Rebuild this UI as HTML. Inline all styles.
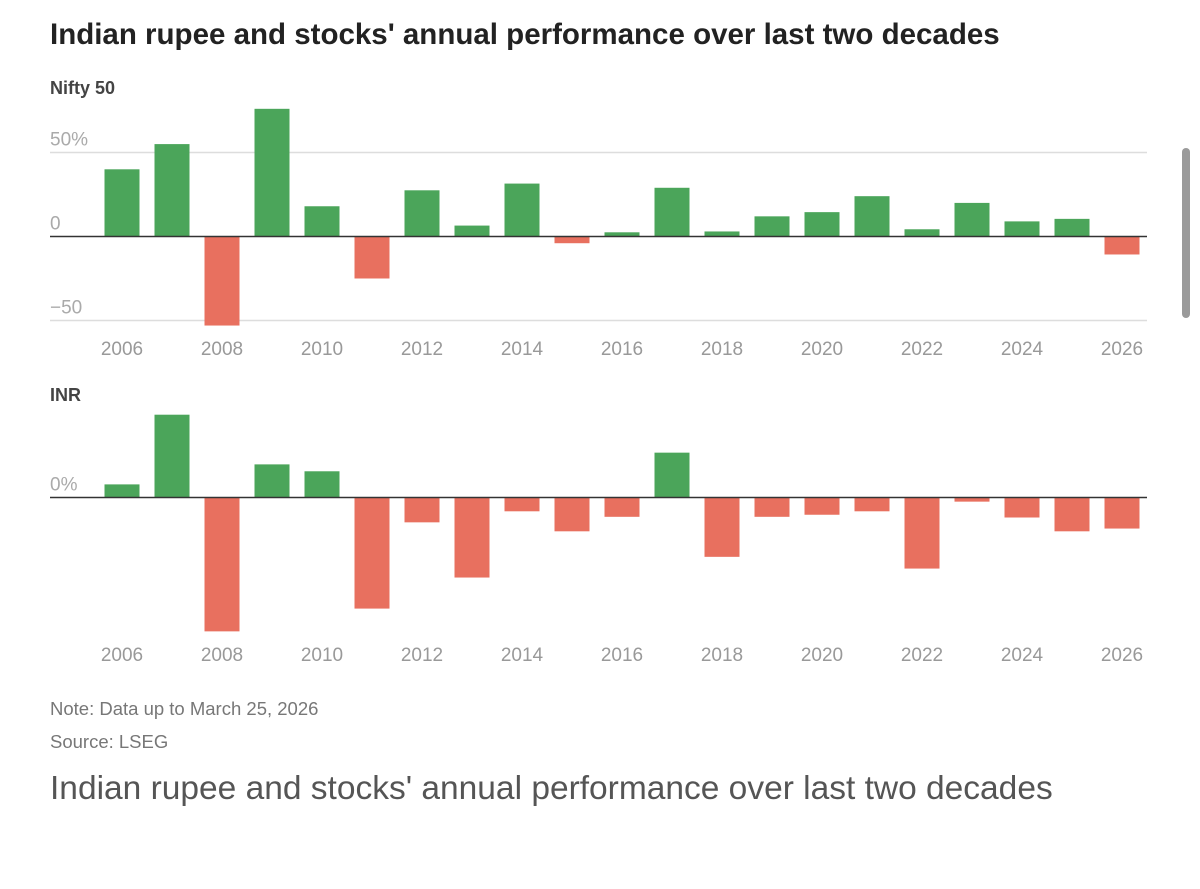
<!DOCTYPE html>
<html><head><meta charset="utf-8"><style>
body{margin:0;background:#fff;width:1200px;height:889px;overflow:hidden;font-family:"Liberation Sans",sans-serif;position:relative}
.t{position:absolute;white-space:nowrap}
</style></head><body>
<div class="t" style="left:50px;top:18px;font-size:29.5px;font-weight:bold;color:#222">Indian rupee and stocks' annual performance over last two decades</div>
<div class="t" style="left:50px;top:78px;font-size:18px;font-weight:bold;color:#444">Nifty 50</div>
<div class="t" style="left:50px;top:385px;font-size:18px;font-weight:bold;color:#444">INR</div>
<svg id="c" width="1200" height="889" style="position:absolute;left:0;top:0"></svg>
<div style="position:absolute;left:1182px;top:148px;width:8px;height:170px;border-radius:4px;background:#9a9a9a"></div>
<div class="t" style="left:50px;top:698px;font-size:18.5px;color:#777">Note: Data up to March 25, 2026</div>
<div class="t" style="left:50px;top:731px;font-size:18.5px;color:#777">Source: LSEG</div>
<div class="t" style="left:50px;top:770px;font-size:33.5px;color:#555">Indian rupee and stocks' annual performance over last two decades</div>
<script>
const years=[2006,2007,2008,2009,2010,2011,2012,2013,2014,2015,2016,2017,2018,2019,2020,2021,2022,2023,2024,2025,2026];
const nifty=[40,55,-53,76,18,-25,27.5,6.5,31.5,-4,2.5,29,3,12,14.5,24,4.3,20,9,10.5,-10.7];
const inr=[1.9,12,-19.4,4.8,3.8,-16.1,-3.6,-11.6,-2,-4.9,-2.8,6.5,-8.6,-2.8,-2.5,-2,-10.3,-0.6,-2.9,-4.9,-4.5];
const niftyTicks=[50,0,-50];
const niftyTickLabels=["50%","0","\u221250"];
const xTicks=[2006,2008,2010,2012,2014,2016,2018,2020,2022,2024,2026];
const svg=document.getElementById('c'),NS='http://www.w3.org/2000/svg';
function mk(t,a,p){const e=document.createElementNS(NS,t);for(const k in a)e.setAttribute(k,a[k]);(p||svg).appendChild(e);return e;}
const xS=y=>122+(y-2006)*50;
function panel(vals,zeroY,scale,ticks,labels,axisY,name){
  const yS=v=>zeroY-v*scale;
  const g=mk('g',{});
  
  
  ticks.forEach((t,i)=>{
    if(t!==0){const l=mk('line',{x1:50,x2:1147,y1:yS(t),y2:yS(t),stroke:'#ddd','stroke-width':1.5},g);
    }
    const tx=mk('text',{x:50,y:yS(t)-7,'font-size':19,fill:'#aaa','font-family':'Liberation Sans'},g);
    tx.textContent=labels[i];
    
  });
  vals.forEach((v,i)=>{
    const x=xS(years[i])-17.5,y0=yS(Math.max(v,0)),h=Math.abs(v)*scale;
    const r=mk('rect',{x:x,y:y0,width:35,height:h,fill:v>=0?'#4ba55a':'#e8705f'},g);
    
    
  });
  const z=mk('line',{x1:50,x2:1147,y1:zeroY,y2:zeroY,stroke:'#333','stroke-width':1.5},g);
  
  xTicks.forEach(y=>{
    const tx=mk('text',{x:xS(y),y:axisY,'font-size':19,fill:'#999','text-anchor':'middle','font-family':'Liberation Sans'},g);
    tx.textContent=y;
    
  });
}
panel(nifty,236.5,1.68,niftyTicks,niftyTickLabels,355,'nifty-chart');
panel(inr,497.5,6.9,[0],["0%"],661,'inr-chart');
</script>
</body></html>
